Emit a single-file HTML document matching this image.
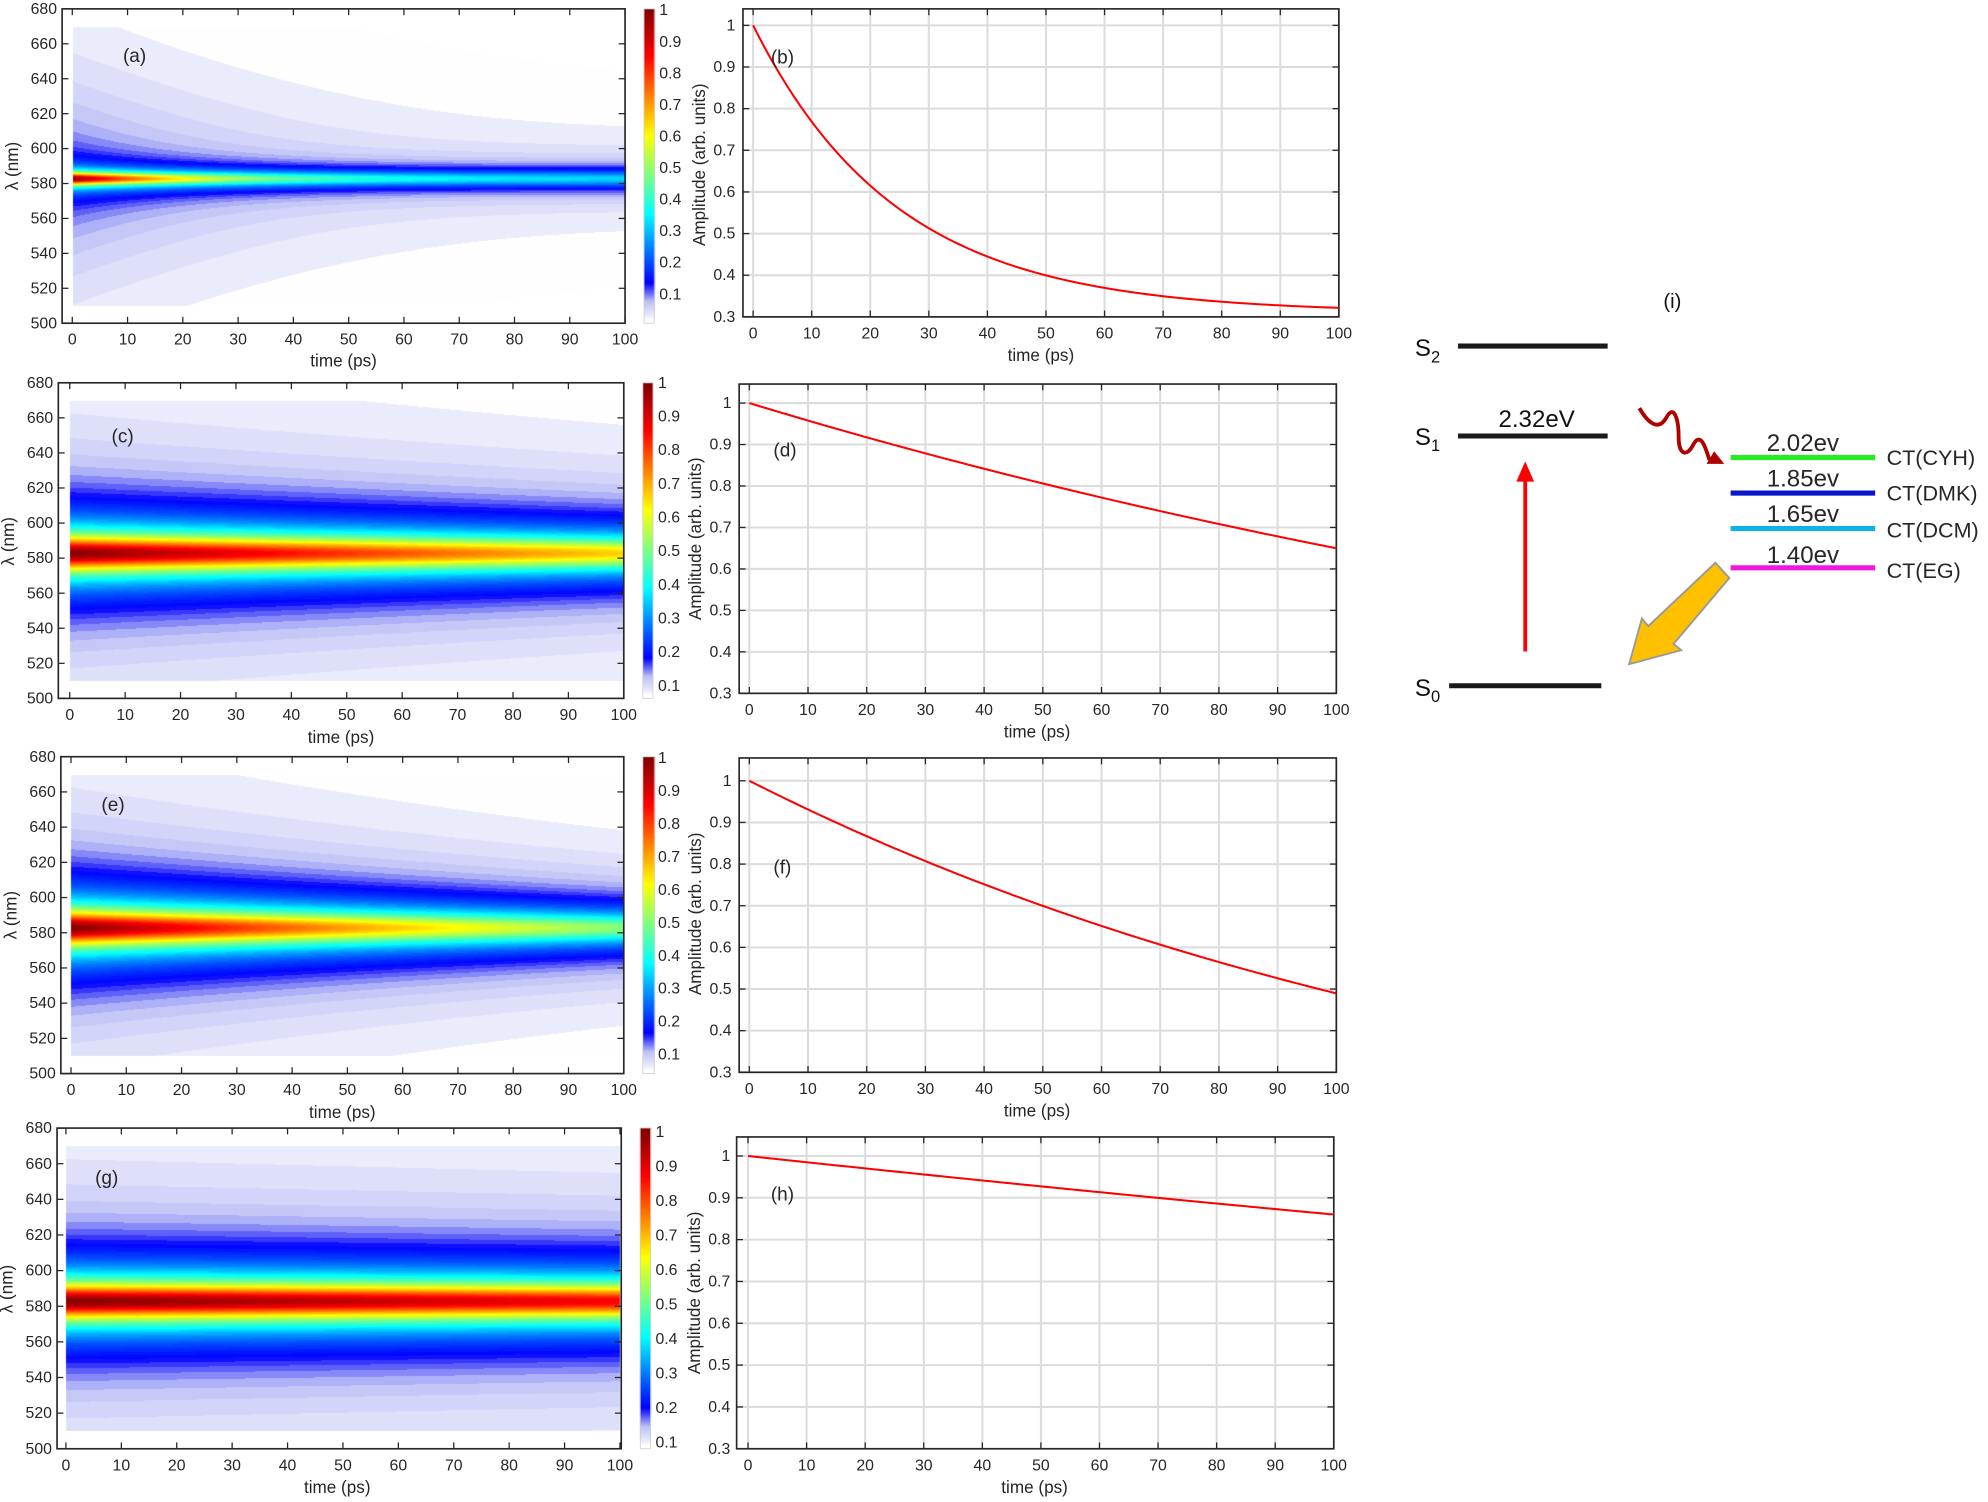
<!DOCTYPE html>
<html><head><meta charset="utf-8"><style>
html,body{margin:0;padding:0;background:#fff;}
#wrap{position:relative;width:1988px;height:1502px;overflow:hidden;}
canvas,svg{position:absolute;left:0;top:0;}
text{font-family:"Liberation Sans",sans-serif;fill:#262626;}
.t{font-size:12.5px;}
.tx{font-size:12.5px;text-anchor:middle;}
.ty{font-size:12.5px;text-anchor:end;}
.lb{font-size:13.5px;text-anchor:middle;}
.pl{font-size:15px;}
.d{font-size:19px;fill:#111;}
</style></head><body><div id="wrap">
<canvas id="cv" width="1988" height="1502"></canvas>
<svg id="sv" width="1988" height="1502" viewBox="0 0 1568 1185" preserveAspectRatio="none">
<g id="lines"></g>
<!-- (a) -->
<g class="ty"><text x="45" y="11">680</text><text x="45" y="38.6">660</text><text x="45" y="66.1">640</text><text x="45" y="93.7">620</text><text x="45" y="121.2">600</text><text x="45" y="148.8">580</text><text x="45" y="176.3">560</text><text x="45" y="203.9">540</text><text x="45" y="231.4">520</text><text x="45" y="259">500</text></g>
<g class="tx"><text x="57" y="272">0</text><text x="100.6" y="272">10</text><text x="144.2" y="272">20</text><text x="187.8" y="272">30</text><text x="231.4" y="272">40</text><text x="275" y="272">50</text><text x="318.6" y="272">60</text><text x="362.2" y="272">70</text><text x="405.8" y="272">80</text><text x="449.4" y="272">90</text><text x="493" y="272">100</text></g>
<text class="lb" x="271" y="289">time (ps)</text>
<text class="lb" transform="translate(14,131) rotate(-90)">λ (nm)</text>
<g class="t"><text x="520" y="12">1</text><text x="520" y="36.9">0.9</text><text x="520" y="61.8">0.8</text><text x="520" y="86.7">0.7</text><text x="520" y="111.6">0.6</text><text x="520" y="136.5">0.5</text><text x="520" y="161.4">0.4</text><text x="520" y="186.3">0.3</text><text x="520" y="211.2">0.2</text><text x="520" y="236.1">0.1</text></g>
<text class="pl" x="97" y="49">(a)</text>
<!-- (c) -->
<g class="ty"><text x="42" y="306">680</text><text x="42" y="333.7">660</text><text x="42" y="361.3">640</text><text x="42" y="389">620</text><text x="42" y="416.7">600</text><text x="42" y="444.3">580</text><text x="42" y="472">560</text><text x="42" y="499.7">540</text><text x="42" y="527.3">520</text><text x="42" y="555">500</text></g>
<g class="tx"><text x="55" y="568">0</text><text x="98.7" y="568">10</text><text x="142.4" y="568">20</text><text x="186.1" y="568">30</text><text x="229.8" y="568">40</text><text x="273.5" y="568">50</text><text x="317.2" y="568">60</text><text x="360.9" y="568">70</text><text x="404.6" y="568">80</text><text x="448.3" y="568">90</text><text x="492" y="568">100</text></g>
<text class="lb" x="269" y="586">time (ps)</text>
<text class="lb" transform="translate(11,427) rotate(-90)">λ (nm)</text>
<g class="t"><text x="519" y="306">1</text><text x="519" y="332.6">0.9</text><text x="519" y="359.1">0.8</text><text x="519" y="385.7">0.7</text><text x="519" y="412.2">0.6</text><text x="519" y="438.8">0.5</text><text x="519" y="465.4">0.4</text><text x="519" y="491.9">0.3</text><text x="519" y="518.5">0.2</text><text x="519" y="545">0.1</text></g>
<text class="pl" x="88" y="349">(c)</text>
<!-- (e) -->
<g class="ty"><text x="44" y="601">680</text><text x="44" y="628.8">660</text><text x="44" y="656.6">640</text><text x="44" y="684.3">620</text><text x="44" y="712.1">600</text><text x="44" y="739.9">580</text><text x="44" y="767.7">560</text><text x="44" y="795.4">540</text><text x="44" y="823.2">520</text><text x="44" y="851">500</text></g>
<g class="tx"><text x="56" y="864">0</text><text x="99.6" y="864">10</text><text x="143.2" y="864">20</text><text x="186.8" y="864">30</text><text x="230.4" y="864">40</text><text x="274" y="864">50</text><text x="317.6" y="864">60</text><text x="361.2" y="864">70</text><text x="404.8" y="864">80</text><text x="448.4" y="864">90</text><text x="492" y="864">100</text></g>
<text class="lb" x="270" y="882">time (ps)</text>
<text class="lb" transform="translate(13,722) rotate(-90)">λ (nm)</text>
<g class="t"><text x="519" y="602">1</text><text x="519" y="628">0.9</text><text x="519" y="654">0.8</text><text x="519" y="680">0.7</text><text x="519" y="706">0.6</text><text x="519" y="732">0.5</text><text x="519" y="758">0.4</text><text x="519" y="784">0.3</text><text x="519" y="810">0.2</text><text x="519" y="836">0.1</text></g>
<text class="pl" x="80" y="640">(e)</text>
<!-- (g) -->
<g class="ty"><text x="41" y="894">680</text><text x="41" y="922.1">660</text><text x="41" y="950.2">640</text><text x="41" y="978.3">620</text><text x="41" y="1006.4">600</text><text x="41" y="1034.6">580</text><text x="41" y="1062.7">560</text><text x="41" y="1090.8">540</text><text x="41" y="1118.9">520</text><text x="41" y="1147">500</text></g>
<g class="tx"><text x="52" y="1160">0</text><text x="95.7" y="1160">10</text><text x="139.4" y="1160">20</text><text x="183.1" y="1160">30</text><text x="226.8" y="1160">40</text><text x="270.5" y="1160">50</text><text x="314.2" y="1160">60</text><text x="357.9" y="1160">70</text><text x="401.6" y="1160">80</text><text x="445.3" y="1160">90</text><text x="489" y="1160">100</text></g>
<text class="lb" x="266" y="1178">time (ps)</text>
<text class="lb" transform="translate(10,1017) rotate(-90)">λ (nm)</text>
<g class="t"><text x="517" y="897">1</text><text x="517" y="924.2">0.9</text><text x="517" y="951.4">0.8</text><text x="517" y="978.7">0.7</text><text x="517" y="1005.9">0.6</text><text x="517" y="1033.1">0.5</text><text x="517" y="1060.3">0.4</text><text x="517" y="1087.5">0.3</text><text x="517" y="1114.8">0.2</text><text x="517" y="1142">0.1</text></g>
<text class="pl" x="75" y="934">(g)</text>
<!-- (b) -->
<g class="ty"><text x="580" y="24">1</text><text x="580" y="56.8">0.9</text><text x="580" y="89.7">0.8</text><text x="580" y="122.6">0.7</text><text x="580" y="155.4">0.6</text><text x="580" y="188.3">0.5</text><text x="580" y="221.1">0.4</text><text x="580" y="254">0.3</text></g>
<g class="tx"><text x="594" y="267">0</text><text x="640.2" y="267">10</text><text x="686.4" y="267">20</text><text x="732.6" y="267">30</text><text x="778.8" y="267">40</text><text x="825" y="267">50</text><text x="871.2" y="267">60</text><text x="917.4" y="267">70</text><text x="963.6" y="267">80</text><text x="1009.8" y="267">90</text><text x="1056" y="267">100</text></g>
<text class="lb" x="821" y="285">time (ps)</text>
<text class="lb" transform="translate(556,130) rotate(-90)">Amplitude (arb. units)</text>
<text class="pl" x="608" y="50">(b)</text>
<!-- (d) -->
<g class="ty"><text x="577" y="322">1</text><text x="577" y="354.7">0.9</text><text x="577" y="387.4">0.8</text><text x="577" y="420.1">0.7</text><text x="577" y="452.9">0.6</text><text x="577" y="485.6">0.5</text><text x="577" y="518.3">0.4</text><text x="577" y="551">0.3</text></g>
<g class="tx"><text x="591" y="564">0</text><text x="637.3" y="564">10</text><text x="683.6" y="564">20</text><text x="729.9" y="564">30</text><text x="776.2" y="564">40</text><text x="822.5" y="564">50</text><text x="868.8" y="564">60</text><text x="915.1" y="564">70</text><text x="961.4" y="564">80</text><text x="1007.7" y="564">90</text><text x="1054" y="564">100</text></g>
<text class="lb" x="818" y="582">time (ps)</text>
<text class="lb" transform="translate(553,425) rotate(-90)">Amplitude (arb. units)</text>
<text class="pl" x="610" y="360">(d)</text>
<!-- (f) -->
<g class="ty"><text x="577" y="620">1</text><text x="577" y="652.9">0.9</text><text x="577" y="685.7">0.8</text><text x="577" y="718.6">0.7</text><text x="577" y="751.4">0.6</text><text x="577" y="784.3">0.5</text><text x="577" y="817.1">0.4</text><text x="577" y="850">0.3</text></g>
<g class="tx"><text x="591" y="863">0</text><text x="637.3" y="863">10</text><text x="683.6" y="863">20</text><text x="729.9" y="863">30</text><text x="776.2" y="863">40</text><text x="822.5" y="863">50</text><text x="868.8" y="863">60</text><text x="915.1" y="863">70</text><text x="961.4" y="863">80</text><text x="1007.7" y="863">90</text><text x="1054" y="863">100</text></g>
<text class="lb" x="818" y="881">time (ps)</text>
<text class="lb" transform="translate(553,721) rotate(-90)">Amplitude (arb. units)</text>
<text class="pl" x="610" y="689">(f)</text>
<!-- (h) -->
<g class="ty"><text x="576" y="916">1</text><text x="576" y="949">0.9</text><text x="576" y="982">0.8</text><text x="576" y="1015">0.7</text><text x="576" y="1048">0.6</text><text x="576" y="1081">0.5</text><text x="576" y="1114">0.4</text><text x="576" y="1147">0.3</text></g>
<g class="tx"><text x="590" y="1160">0</text><text x="636.2" y="1160">10</text><text x="682.4" y="1160">20</text><text x="728.6" y="1160">30</text><text x="774.8" y="1160">40</text><text x="821" y="1160">50</text><text x="867.2" y="1160">60</text><text x="913.4" y="1160">70</text><text x="959.6" y="1160">80</text><text x="1005.8" y="1160">90</text><text x="1052" y="1160">100</text></g>
<text class="lb" x="816" y="1178">time (ps)</text>
<text class="lb" transform="translate(552,1020) rotate(-90)">Amplitude (arb. units)</text>
<text class="pl" x="608" y="947">(h)</text>
<!-- (i) diagram -->
<text class="d" x="1312" y="243" style="font-size:16px">(i)</text>
<line x1="1150" y1="273" x2="1268" y2="273" stroke="#1a1a1a" stroke-width="4"/>
<line x1="1150" y1="344" x2="1268" y2="344" stroke="#1a1a1a" stroke-width="4"/>
<line x1="1143" y1="541" x2="1263" y2="541" stroke="#1a1a1a" stroke-width="4"/>
<text class="d" x="1116" y="281">S<tspan font-size="13" dy="5">2</tspan></text>
<text class="d" x="1116" y="351">S<tspan font-size="13" dy="5">1</tspan></text>
<text class="d" x="1116" y="549">S<tspan font-size="13" dy="5">0</tspan></text>
<text class="d" x="1212" y="337" text-anchor="middle">2.32eV</text>
<line x1="1203" y1="514" x2="1203" y2="378" stroke="#ff0000" stroke-width="3"/>
<polygon points="1203,364 1196,380 1210,380" fill="#ff0000"/>
<path d="M1293,322 C1300,334 1308,340 1314,330 C1320,318 1324,330 1324,345 C1324,358 1330,362 1336,350 C1342,340 1346,356 1348,362 L1352,364" fill="none" stroke="#b00000" stroke-width="3"/>
<polygon points="1360,366 1346,366 1352,356" fill="#b00000"/>
<line x1="1365" y1="361" x2="1479" y2="361" stroke="#22ee22" stroke-width="4"/>
<line x1="1365" y1="389" x2="1479" y2="389" stroke="#0a14c8" stroke-width="4"/>
<line x1="1365" y1="417" x2="1479" y2="417" stroke="#10b0e8" stroke-width="4"/>
<line x1="1365" y1="448" x2="1479" y2="448" stroke="#f018e0" stroke-width="4"/>
<g class="d" text-anchor="middle"><text x="1422" y="356">2.02ev</text><text x="1422" y="384">1.85ev</text><text x="1422" y="412">1.65ev</text><text x="1422" y="444">1.40ev</text></g>
<g class="d" style="font-size:17px"><text x="1488" y="367">CT(CYH)</text><text x="1488" y="395">CT(DMK)</text><text x="1488" y="424">CT(DCM)</text><text x="1488" y="456">CT(EG)</text></g>
<polygon points="1353,444 1364,456 1320,508 1326,513 1285,524 1295,488 1300,494" fill="#ffc000" stroke="#999" stroke-width="1.5"/>
</svg>
</div>
<script>
const W=1988,H=1502,sx=1568/W,sy=1185/H;
const cv=document.getElementById('cv'),ctx=cv.getContext('2d');
const img=ctx.createImageData(W,H);const D=img.data;
const stops=[[0,255,255,255],[0.012,255,255,255],[0.025,234,236,252],[0.07,190,193,246],[0.13,0,0,255],[0.35,0,255,255],[0.6,255,255,0],[0.85,255,0,0],[1,128,0,0]];
function cmap(v){v=Math.max(0,Math.min(1,v));for(let i=1;i<stops.length;i++){if(v<=stops[i][0]){const a=stops[i-1],b=stops[i],f=(v-a[0])/(b[0]-a[0]);return [a[1]+(b[1]-a[1])*f,a[2]+(b[2]-a[2])*f,a[3]+(b[3]-a[3])*f];}}return [128,0,0];}
const fb=t=>0.31+0.69*Math.exp(-t/24.5);
const fd=t=>Math.exp(-t/232),ff=t=>Math.exp(-t/140),fh=t=>Math.exp(-t/663);
function shape(d,g){return Math.pow(1+(d/g)*(d/g),-0.75);}
function gs(d,g){return 1/(1+(d/g)*(d/g));}
const heat=[
{X0:57,X1:493,Y0:7,Y1:255,cb:[508,516],v:(t,d)=>{const s=gs(d,3.6+0.012*t);const T=0.07*Math.exp(-t/40)+0.016;return fb(t)*s+(1-s)*T/(1+(d/60)*(d/60));}},
{X0:55,X1:492,Y0:302,Y1:551,cb:[507,515],v:(t,d)=>fd(t)*shape(d,9-0.006*t)},
{X0:56,X1:492,Y0:597,Y1:847,cb:[507,516],v:(t,d)=>ff(t)*shape(d,9-0.013*t)},
{X0:52,X1:489,Y0:890,Y1:1143,cb:[505,513],v:(t,d)=>fh(t)*shape(d,9)}];
function put(X,Y,c){const i=(Y*W+X)*4;D[i]=c[0];D[i+1]=c[1];D[i+2]=c[2];D[i+3]=255;}
heat.forEach(p=>{
 const ly=l=>p.Y1-(l-500)*(p.Y1-p.Y0)/180;
 const ya=ly(670),yb=ly(510);
 for(let X=Math.ceil(p.X0/sx);X<p.X1/sx;X++){const t=(X*sx-p.X0)/(p.X1-p.X0)*100;
  for(let Y=Math.ceil(ya/sy);Y<yb/sy;Y++){const l=500+(p.Y1-Y*sy)/(p.Y1-p.Y0)*180;const d=l-583;
   let v=p.v(t,d);v=Math.floor(v*80)/80;put(X,Y,cmap(v));}}
 for(let X=Math.round(p.cb[0]/sx);X<p.cb[1]/sx;X++)for(let Y=Math.round(p.Y0/sy);Y<p.Y1/sy;Y++){put(X,Y,cmap(1-(Y*sy-p.Y0)/(p.Y1-p.Y0)));}
});
ctx.putImageData(img,0,0);
const NS='http://www.w3.org/2000/svg',G=document.getElementById('lines');
function L(x1,y1,x2,y2,c,w){const e=document.createElementNS(NS,'line');e.setAttribute('x1',x1);e.setAttribute('y1',y1);e.setAttribute('x2',x2);e.setAttribute('y2',y2);e.setAttribute('stroke',c);e.setAttribute('stroke-width',w);G.appendChild(e);}
function R(x,y,w,h){const e=document.createElementNS(NS,'rect');e.setAttribute('x',x);e.setAttribute('y',y);e.setAttribute('width',w);e.setAttribute('height',h);e.setAttribute('fill','none');e.setAttribute('stroke','#262626');e.setAttribute('stroke-width',1.3);G.appendChild(e);}
const hf=[[49,493,7,255],[46,492,302,551],[48,492,597,847],[45,490,890,1143]];
heat.forEach((p,i)=>{const f=hf[i];R(f[0],f[2],f[1]-f[0],f[3]-f[2]);
 for(let k=0;k<=10;k++){const x=p.X0+k*(p.X1-p.X0)/10;L(x,f[3],x,f[3]-5,'#262626',1);L(x,f[2],x,f[2]+5,'#262626',1);}
 for(let k=0;k<=9;k++){const y=f[3]-k*(f[3]-f[2])/9;L(f[0],y,f[0]+5,y,'#262626',1);L(f[1],y,f[1]-5,y,'#262626',1);}
 R(p.cb[0],p.Y0,p.cb[1]-p.cb[0],p.Y1-p.Y0);G.lastChild.setAttribute('stroke','#ccc');G.lastChild.setAttribute('stroke-width',0.6);});
const lp=[
{f:[586,1056,7,250],X0:594,X1:1056,Y1:20,Y3:250,fn:fb},
{f:[583,1054,303,547],X0:591,X1:1054,Y1:318,Y3:547,fn:fd},
{f:[583,1054,598,846],X0:591,X1:1054,Y1:616,Y3:846,fn:ff},
{f:[581,1052,897,1143],X0:590,X1:1052,Y1:912,Y3:1143,fn:fh}];
lp.forEach(p=>{const f=p.f;
 for(let k=0;k<=10;k++){const x=p.X0+k*(p.X1-p.X0)/10;L(x,f[2],x,f[3],'#dcdcdc',1.6);}
 for(let k=0;k<=7;k++){const y=p.Y3-k*(p.Y3-p.Y1)/7;L(f[0],y,f[1],y,'#dcdcdc',1.6);}
 for(let k=0;k<=10;k++){const x=p.X0+k*(p.X1-p.X0)/10;L(x,f[3],x,f[3]-5,'#262626',1);L(x,f[2],x,f[2]+5,'#262626',1);}
 for(let k=0;k<=7;k++){const y=p.Y3-k*(p.Y3-p.Y1)/7;L(f[0],y,f[0]+5,y,'#262626',1);L(f[1],y,f[1]-5,y,'#262626',1);}
 R(f[0],f[2],f[1]-f[0],f[3]-f[2]);
 let d='';for(let t=0;t<=100;t+=1){const x=p.X0+t*(p.X1-p.X0)/100,y=p.Y3-(p.fn(t)-0.3)*(p.Y3-p.Y1)/0.7;d+=(t?'L':'M')+x.toFixed(2)+','+y.toFixed(2);}
 const e=document.createElementNS(NS,'path');e.setAttribute('d',d);e.setAttribute('fill','none');e.setAttribute('stroke','#ff0000');e.setAttribute('stroke-width',1.6);G.appendChild(e);});
</script>
</body></html>
